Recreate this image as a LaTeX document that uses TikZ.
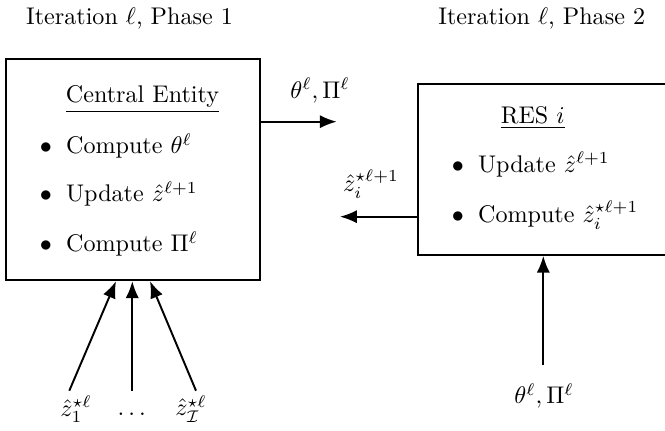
\documentclass[tikz,border=0pt]{standalone}
\usetikzlibrary{arrows.meta}
\begin{document}
\begin{tikzpicture}[x=0.415pt,y=-0.415pt, line width=0.8pt,
  arr/.style={-{Latex[length=7pt,width=5.5pt]}},
  lbl/.style={inner sep=0pt, anchor=base},
  item/.style={inner sep=0pt, anchor=base west},
  boxnode/.style={draw, inner sep=0pt, anchor=north west, minimum width=105.4pt}]
\clip (0,0) rectangle (665,431);
% titles
\node[lbl] (t1) at (129.5,25) {Iteration $\ell$, Phase 1};
\node[lbl] (t2) at (541.7,24.5) {Iteration $\ell$, Phase 2};
% boxes
\node[boxnode, minimum height=91.7pt] (ce) at (5.3,58.3) {};
\node[boxnode, minimum height=70.8pt] (res) at (416.7,83.3) {};
% central entity content
\node[lbl] (cet) at (142.5,103) {\underline{Central Entity}};
\node[item] (c1) at (38.9,154) {\makebox[10.9pt][l]{$\bullet$}Compute $\theta^\ell$};
\node[item] (c2) at (38.9,202) {\makebox[10.9pt][l]{$\bullet$}Update $\hat{z}^{\ell+1}$};
\node[item] (c3) at (38.9,252) {\makebox[10.9pt][l]{$\bullet$}Compute $\Pi^\ell$};
% RES content
\node[lbl] (rt) at (532.7,124) {\underline{RES $i$}};
\node[item] (r1) at (450.9,172.7) {\makebox[10.9pt][l]{$\bullet$}Update $\hat{z}^{\ell+1}$};
\node[item] (r2) at (450.9,222.5) {\makebox[10.9pt][l]{$\bullet$}Compute $\hat{z}_i^{\star\ell+1}$};
% arrow CE -> RES
\coordinate (a1) at (336.7,121.7);
\draw[arr] (ce.east |- a1) -- (a1);
\node[lbl] (l1) at (320,98.3) {$\theta^\ell, \Pi^\ell$};
% arrow RES -> CE
\coordinate (a2) at (340,216.7);
\draw[arr] (res.west |- a2) -- (a2);
\node[lbl] (l2) at (371,191.5) {$\hat{z}_i^{\star\ell+1}$};
% bottom right arrow
\coordinate (b0) at (543.3,365);
\draw[arr] (b0) -- (b0 |- res.south);
\node[lbl] (l3) at (544,404) {$\theta^\ell, \Pi^\ell$};
% bottom left arrows
\coordinate (s1) at (69.3,390.7);
\coordinate (s2) at (132.3,390.7);
\coordinate (s3) at (196,390.7);
\coordinate (e1) at (116,279.3);
\coordinate (e2) at (132.3,279.3);
\coordinate (e3) at (150,279.3);
\draw[arr] (s1) -- (ce.south -| e1);
\draw[arr] (s2) -- (ce.south -| e2);
\draw[arr] (s3) -- (ce.south -| e3);
\node[anchor=center, inner sep=0pt] (z1) at (76,409) {$\hat{z}_1^{\star\ell}$};
\node[lbl] (zd) at (131.7,416) {$\ldots$};
\node[anchor=center, inner sep=0pt] (zI) at (191,409) {$\hat{z}_{\mathcal{I}}^{\star\ell}$};
\end{tikzpicture}
\end{document}
